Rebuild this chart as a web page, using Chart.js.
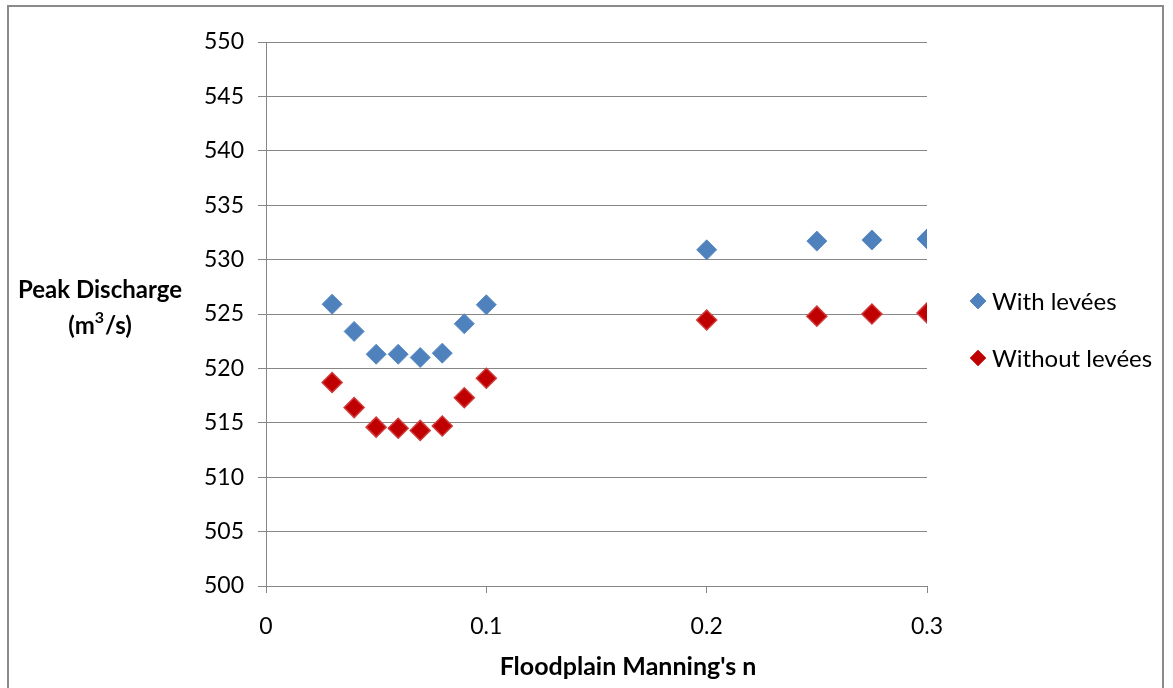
<!DOCTYPE html>
<html><head><meta charset="utf-8">
<script src="https://cdn.jsdelivr.net/npm/chart.js@4"></script>
<style>html,body{margin:0;padding:0;background:#fff}#wrap{width:1173px;height:688px;position:relative}</style>
</head><body><div id="wrap"><canvas id="c" width="1173" height="688"></canvas></div>
<script>
const manningN = [0.03, 0.04, 0.05, 0.06, 0.07, 0.08, 0.09, 0.1, 0.2, 0.25, 0.275, 0.3];
const withLevees = [525.9, 523.4, 521.3, 521.3, 521.0, 521.4, 524.1, 525.85, 530.9, 531.7, 531.8, 531.9];
const withoutLevees = [518.7, 516.4, 514.6, 514.5, 514.3, 514.7, 517.3, 519.1, 524.45, 524.8, 525.0, 525.1];
const xTickValues = [0, 0.1, 0.2, 0.3];
const yTickValues = [500, 505, 510, 515, 520, 525, 530, 535, 540, 545, 550];
const seriesNames = ['With levées', 'Without levées'];
const xTitle = "Floodplain Manning's n";
const yTitleLine1 = 'Peak Discharge';

const FONT = 'Lato, "Open Sans", sans-serif';
const BLUE = '#4F81BD', BLUE_EDGE = '#5B8CC6';
const RED = '#C00000', RED_EDGE = '#D03A3A';
const GRID = '#868686';

function pts(ys) { return manningN.map((x, i) => ({ x: x, y: ys[i] })); }

const decor = {
  id: 'decor',
  beforeDraw(chart) {
    const ctx = chart.ctx;
    ctx.save();
    ctx.fillStyle = '#fff';
    ctx.fillRect(0, 0, chart.width, chart.height);
    ctx.strokeStyle = '#8a8a8a';
    ctx.lineWidth = 2;
    ctx.beginPath();
    ctx.moveTo(8, 700); ctx.lineTo(8, 6); ctx.lineTo(1163, 6); ctx.lineTo(1163, 700);
    ctx.stroke();
    ctx.restore();
  },
  afterDraw(chart) {
    const ctx = chart.ctx;
    ctx.save();
    ctx.fillStyle = '#000';
    ctx.textBaseline = 'middle';
    // y title
    const TF = 'bold 24px ' + FONT, SF = 'bold 16px ' + FONT;
    ctx.font = TF;
    ctx.textAlign = 'center';
    ctx.fillText(yTitleLine1, 100, 290);
    // (m³/s)
    const a = '(m', sup = '3', b = '/s)';
    const wa = ctx.measureText(a).width, wb = ctx.measureText(b).width;
    ctx.font = SF;
    const ws = ctx.measureText(sup).width + 1;
    let x0 = 100 - (wa + ws + wb) / 2;
    ctx.textAlign = 'left';
    ctx.font = TF;
    ctx.fillText(a, x0, 326);
    ctx.font = SF;
    ctx.fillText(sup, x0 + wa, 318);
    ctx.font = TF;
    ctx.fillText(b, x0 + wa + ws, 326);
    // x title
    ctx.font = 'bold 25px ' + FONT;
    ctx.textAlign = 'center';
    ctx.fillText(xTitle, 628, 667);
    // legend
    const items = [
      { y: 301, fill: BLUE, edge: BLUE_EDGE, text: seriesNames[0] },
      { y: 358, fill: RED, edge: RED_EDGE, text: seriesNames[1] }
    ];
    items.forEach(it => {
      ctx.fillStyle = it.fill; ctx.strokeStyle = it.edge; ctx.lineWidth = 1;
      Chart.helpers.drawPoint(ctx, { pointStyle: 'rectRot', radius: 8, borderWidth: 1 }, 978, it.y);
      ctx.fill(); ctx.stroke();
      ctx.fillStyle = '#000';
      ctx.font = '24px ' + FONT;
      ctx.textAlign = 'left';
      ctx.fillText(it.text, 992, it.y + 1);
    });
    ctx.restore();
  }
};

new Chart(document.getElementById('c'), {
  type: 'scatter',
  data: {
    datasets: [
      { label: seriesNames[0], data: pts(withLevees), backgroundColor: BLUE, borderColor: BLUE_EDGE, borderWidth: 1, pointStyle: 'rectRot', pointRadius: 10, pointHoverRadius: 10 },
      { label: seriesNames[1], data: pts(withoutLevees), backgroundColor: RED, borderColor: RED_EDGE, borderWidth: 1.5, pointStyle: 'rectRot', pointRadius: 10, pointHoverRadius: 10 }
    ]
  },
  options: {
    responsive: false,
    animation: false,
    devicePixelRatio: 1,
    layout: { padding: { left: 0, right: 246, top: 42, bottom: 0 } },
    plugins: { legend: { display: false }, tooltip: { enabled: false } },
    scales: {
      x: {
        type: 'linear', min: 0, max: 0.3,
        afterBuildTicks(s) { s.ticks = xTickValues.map(v => ({ value: v })); },
        afterFit(s) { s.height = 102; },
        grid: { drawOnChartArea: false, drawTicks: true, tickLength: 7, color: GRID, lineWidth: 1 },
        border: { display: true, color: GRID, width: 1 },
        ticks: { color: '#000', font: { family: FONT, size: 23 }, padding: 20, maxRotation: 0, callback: v => String(v) }
      },
      y: {
        type: 'linear', min: 500, max: 550,
        afterBuildTicks(s) { s.ticks = yTickValues.map(v => ({ value: v })); },
        afterFit(s) { s.width = 266; },
        grid: { drawOnChartArea: true, drawTicks: true, tickLength: 8, color: GRID, lineWidth: 1 },
        border: { display: true, color: GRID, width: 1 },
        ticks: { color: '#000', font: { family: FONT, size: 23 }, padding: 14, callback: v => String(v) }
      }
    }
  },
  plugins: [decor]
});
</script>
</body></html>
